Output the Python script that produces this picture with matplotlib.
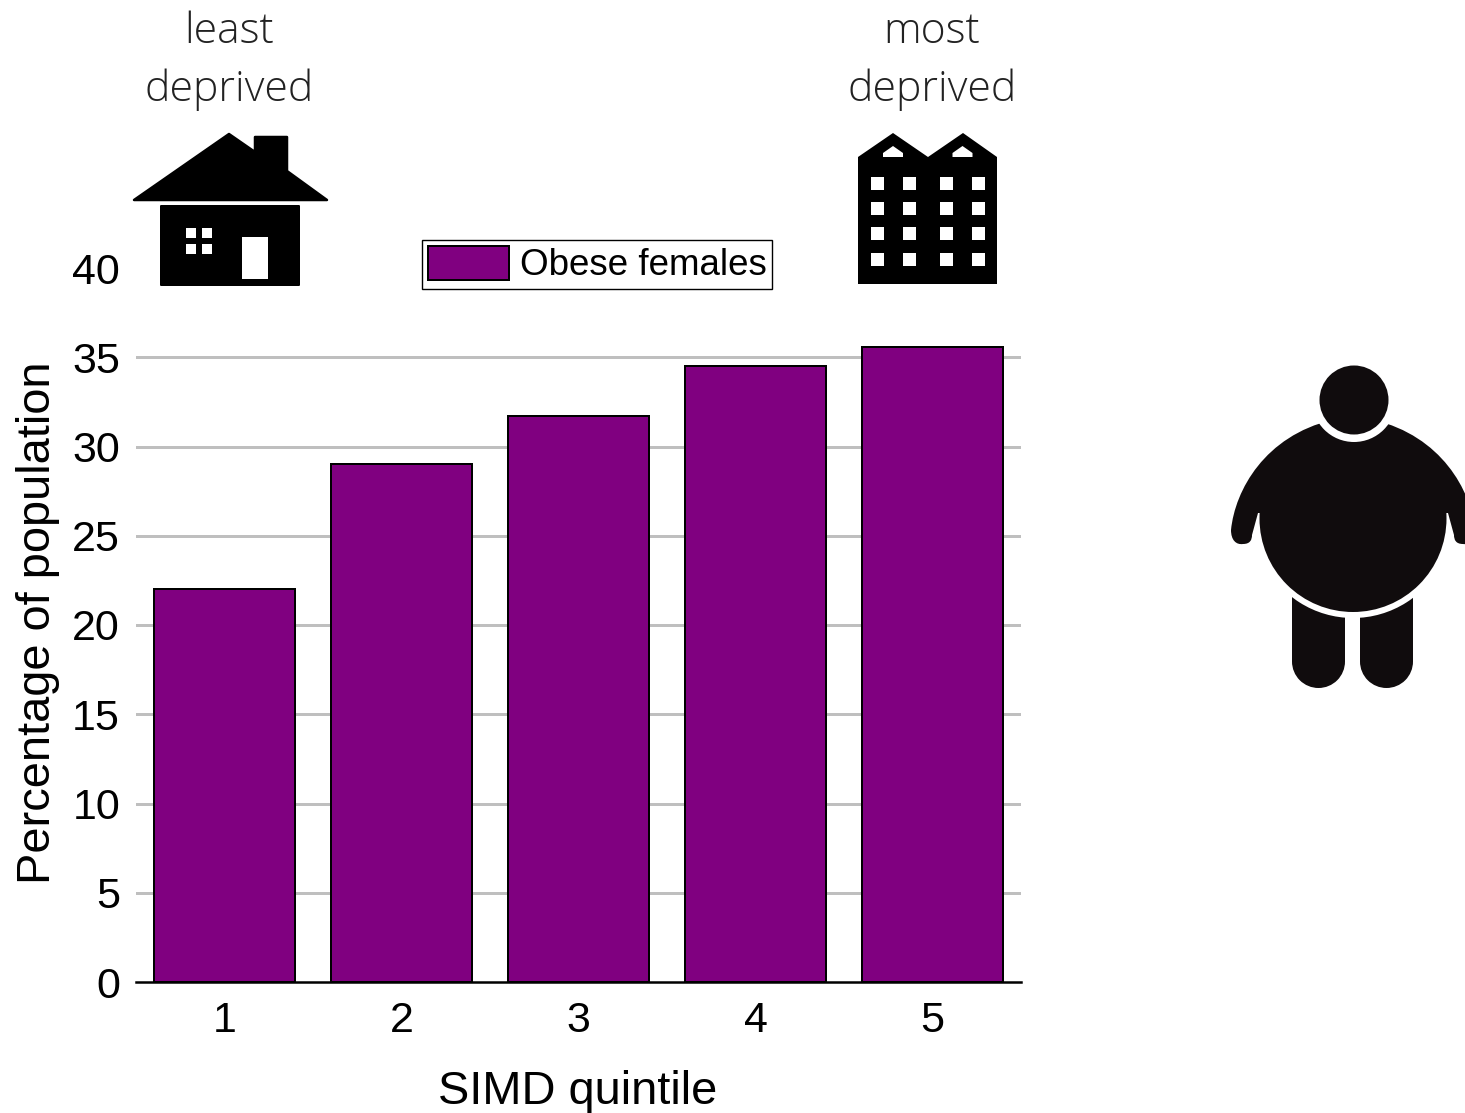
import matplotlib as mpl
mpl.use('Agg')
import matplotlib.pyplot as plt
import matplotlib.patches as mpatches
from matplotlib.path import Path
from matplotlib.transforms import IdentityTransform

plt.rcParams['font.family'] = ['Liberation Sans', 'DejaVu Sans']

quintiles = [1, 2, 3, 4, 5]
obese_females = [22.0, 29.0, 31.7, 34.5, 35.6]
y_ticks = [0, 5, 10, 15, 20, 25, 30, 35, 40]

W, H = 1465, 1113
PURPLE = '#800080'
GRID = '#bfbfbf'
INK = '#100c0d'


def px(v):
    # pixel widths to points at dpi 100
    return v * 72 / 100


def draw_house(ov):
    ov.add_patch(mpatches.Polygon([(229, 134), (255, 152), (255, 137), (287, 137), (287, 171), (327, 200), (134, 200)],
                                  fc='black', ec='black', lw=px(2.5), joinstyle='round'))
    ov.add_patch(mpatches.Rectangle((161, 206), 138, 79, fc='black', ec='black', lw=px(2), joinstyle='round'))
    for x in (186, 202):
        for y in (228, 244):
            ov.add_patch(mpatches.Rectangle((x, y), 10, 10, fc='white', ec='none'))
    ov.add_patch(mpatches.Rectangle((242, 237), 26, 42, fc='white', ec='none'))


def draw_flats(ov):
    ov.add_patch(mpatches.Polygon([(858, 157), (893, 133), (928, 157), (963, 133), (997, 157), (997, 284), (858, 284)],
                                  fc='black', ec='none'))
    for dx in (0, 69.5):
        ov.add_patch(mpatches.Polygon([(883 + dx, 157), (883 + dx, 153), (893 + dx, 146), (903 + dx, 153), (903 + dx, 157)],
                                      fc='white', ec='none'))
    for x in (871, 903, 940, 972):
        for y in (177, 202, 227, 253):
            ov.add_patch(mpatches.Rectangle((x, y), 13, 12.5, fc='white', ec='none'))


def arm_path(cx, side):
    # shoulder and arm outline, side=-1 for left, side=1 for right
    def m(x):
        return cx + side * (1353 - x)
    verts = [(m(1332), 420), (m(1265), 436), (m(1235), 490), (m(1231), 530),
             (m(1231), 540), (m(1236), 545), (m(1243), 544),
             (m(1250), 544), (m(1252), 540), (m(1252), 535),
             (m(1258), 513), (m(1332), 513), (m(1332), 420)]
    codes = [Path.MOVETO, Path.CURVE4, Path.CURVE4, Path.CURVE4,
             Path.CURVE4, Path.CURVE4, Path.CURVE4,
             Path.CURVE4, Path.CURVE4, Path.CURVE4,
             Path.LINETO, Path.LINETO, Path.CLOSEPOLY]
    return Path(verts, codes)


def draw_person(ov):
    cx, cy = 1353, 518.5
    for x in (1292, 1360):
        ov.add_patch(mpatches.Rectangle((x, 590), 53, 71.5, fc=INK, ec='none'))
        ov.add_patch(mpatches.Circle((x + 26.5, 661.5), 26.5, fc=INK, ec='none'))
    # white gap between belly and legs
    ov.add_patch(mpatches.Wedge((cx, cy), 99.5, 25, 155, fc='white', ec='none'))
    ov.add_patch(mpatches.PathPatch(arm_path(cx, 1), fc=INK, ec='none'))
    ov.add_patch(mpatches.PathPatch(arm_path(cx, -1), fc=INK, ec='none'))
    ov.add_patch(mpatches.Circle((cx, cy), 93.5, fc=INK, ec='none'))
    ov.add_patch(mpatches.Circle((1354, 400), 42, fc='white', ec='none'))
    ov.add_patch(mpatches.Circle((1354, 400), 34.5, fc=INK, ec='none'))


fig = plt.figure(figsize=(W / 100, H / 100), dpi=100)
ax = fig.add_axes([136 / W, 1 - 982 / H, (1021 - 136) / W, (982 - 268) / H])
ax.patch.set_alpha(0)

bars = ax.bar(quintiles, obese_females, width=0.8, color=PURPLE, edgecolor='black', linewidth=px(2),
              zorder=3, label='Obese females')
ax.set_xlim(0.5, 5.5)
ax.set_ylim(0, 40)
ax.set_xticks(quintiles)
ax.set_yticks(y_ticks)
ax.tick_params(axis='both', length=0, labelsize=31)
ax.tick_params(axis='y', pad=px(16))
ax.tick_params(axis='x', pad=px(19))

# grid stops at 35, the top tick has no line
for y in y_ticks[1:-1]:
    ax.axhline(y, color=GRID, lw=px(3), zorder=1)

for s in ('top', 'left', 'right'):
    ax.spines[s].set_visible(False)
ax.spines['bottom'].set_linewidth(px(2.5))
ax.spines['bottom'].set_zorder(4)

fig.text(578 / W, 1 - 1092 / H, 'SIMD quintile', fontsize=33.8, ha='center', va='center')
fig.text(38 / W, 1 - 623 / H, 'Percentage of population', fontsize=33.8, rotation=90, ha='center', va='center')

ax.legend(handles=[bars], loc='lower left', bbox_to_anchor=(422, H - 289), bbox_transform=IdentityTransform(),
          borderaxespad=0, fontsize=26.5, frameon=True, fancybox=False, framealpha=1, edgecolor='black',
          handlelength=2.22, handleheight=1.08, handletextpad=0.28, borderpad=0.15)

ov = fig.add_axes([0, 0, 1, 1])
ov.set_xlim(0, W)
ov.set_ylim(H, 0)
ov.axis('off')
ov.patch.set_alpha(0)

for x, top in ((229, 'least'), (932, 'most')):
    ov.text(x, 32, top, family='Open Sans', weight='light', fontsize=30.8, ha='center', va='center', color='#222222')
    ov.text(x, 90, 'deprived', family='Open Sans', weight='light', fontsize=30.8, ha='center', va='center', color='#222222')

draw_house(ov)
draw_flats(ov)
draw_person(ov)

fig.savefig('out.png', dpi=100)
